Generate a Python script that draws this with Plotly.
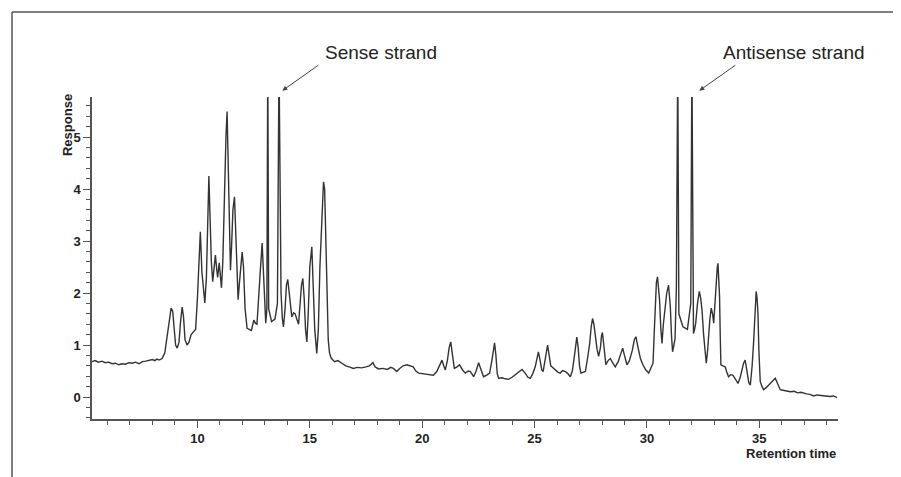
import plotly.graph_objects as go

# Retention time (min) and detector response
retention_time = [
    5.31, 5.45, 5.6, 5.75, 5.9, 6.05, 6.2, 6.35, 6.5, 6.65, 6.8, 6.95, 7.1, 7.25, 7.4, 7.55, 7.7, 7.85, 8.0, 8.1, 8.2, 8.3, 8.43,
    8.55, 8.65, 8.75, 8.83, 8.9, 8.97, 9.03, 9.10, 9.18, 9.25, 9.32, 9.38, 9.45, 9.54, 9.62, 9.72, 9.84, 9.92, 10.0, 10.06,
    10.13, 10.2, 10.27, 10.33, 10.4, 10.45, 10.51, 10.56, 10.62, 10.68, 10.74, 10.80, 10.86, 10.9, 10.97, 11.02, 11.07, 11.13,
    11.18, 11.22, 11.27, 11.32, 11.36, 11.40, 11.44, 11.47, 11.52, 11.58, 11.65, 11.70, 11.75, 11.81, 11.87, 11.93, 11.99,
    12.05, 12.12, 12.21, 12.3, 12.4, 12.51, 12.58, 12.65, 12.72, 12.80, 12.88, 12.94, 13.0, 13.04, 13.09, 13.13, 13.17,
    13.3, 13.45, 13.56, 13.63, 13.67, 13.72, 13.78, 13.83, 13.9, 13.96, 14.02, 14.08, 14.14, 14.2, 14.28, 14.35, 14.42,
    14.5, 14.57, 14.63, 14.69, 14.75, 14.81, 14.87, 14.93, 15.0, 15.09, 15.15, 15.22, 15.31, 15.38, 15.45, 15.5, 15.56,
    15.61, 15.66, 15.71, 15.76, 15.82, 15.88, 15.95, 16.1, 16.25, 16.43, 16.6, 16.75, 16.94, 17.1, 17.3, 17.5, 17.65,
    17.81, 17.9, 18.06, 18.25, 18.45, 18.6, 18.72, 18.87, 19.0, 19.15, 19.32, 19.45, 19.6, 19.72, 19.84, 20.0, 20.15,
    20.3, 20.5, 20.65, 20.78, 20.88, 20.96, 21.03, 21.12, 21.2, 21.27, 21.35, 21.43, 21.55, 21.66, 21.8, 21.92, 22.05,
    22.14, 22.22, 22.29, 22.4, 22.51, 22.6, 22.73, 22.87, 23.0, 23.1, 23.17, 23.22, 23.28, 23.34, 23.4, 23.55, 23.7,
    23.84, 24.0, 24.13, 24.3, 24.44, 24.6, 24.7, 24.81, 24.92, 25.03, 25.1, 25.17, 25.25, 25.32, 25.38, 25.45, 25.52,
    25.58, 25.65, 25.72, 25.77, 25.85, 25.92, 26.03, 26.14, 26.25, 26.37, 26.48, 26.59, 26.68, 26.77, 26.83, 26.88,
    26.94, 27.0, 27.06, 27.15, 27.26, 27.36, 27.45, 27.52, 27.58, 27.64, 27.7, 27.78, 27.85, 27.93, 27.98, 28.02, 28.08,
    28.17, 28.27, 28.37, 28.47, 28.59, 28.72, 28.83, 28.92, 29.0, 29.11, 29.22, 29.35, 29.44, 29.51, 29.58, 29.71,
    29.82, 29.95, 30.08, 30.18, 30.27, 30.33, 30.37, 30.42, 30.47, 30.52, 30.56, 30.62, 30.67, 30.73, 30.8, 30.88,
    30.96, 31.0, 31.04, 31.09, 31.14, 31.2, 31.25, 31.31, 31.37, 31.42, 31.6, 31.8, 31.95, 32.0, 32.04, 32.07, 32.12,
    32.17, 32.25, 32.33, 32.39, 32.45, 32.52, 32.58, 32.64, 32.7, 32.74, 32.8, 32.86, 32.92, 32.97, 33.03, 33.08,
    33.13, 33.16, 33.2, 33.23, 33.26, 33.29, 33.38, 33.48, 33.55, 33.63, 33.72, 33.82, 33.93, 34.05, 34.15, 34.23,
    34.3, 34.37, 34.42, 34.47, 34.53, 34.6, 34.68, 34.75, 34.81, 34.86, 34.9, 34.94, 34.98, 35.04, 35.12, 35.19, 35.3,
    35.4, 35.49, 35.6, 35.71, 35.82, 35.93, 36.05, 36.2, 36.38, 36.55, 36.7, 36.85, 36.97, 37.1, 37.25, 37.42, 37.55,
    37.7, 37.86, 38.0, 38.15, 38.3, 38.46,
]
response = [
    0.68, 0.70, 0.67, 0.69, 0.66, 0.67, 0.64, 0.65, 0.62, 0.64, 0.63, 0.66, 0.65, 0.67, 0.64, 0.68, 0.69, 0.70, 0.72, 0.70, 0.73, 0.71, 0.74,
    0.85, 1.15, 1.55, 1.71, 1.65, 1.25, 1.0, 0.94, 1.05, 1.45, 1.73, 1.55, 1.1, 1.0, 1.05, 1.2, 1.26, 1.3, 1.9, 2.5,
    3.18, 2.4, 2.0, 1.81, 2.3, 3.3, 4.25, 3.5, 2.6, 2.22, 2.5, 2.73, 2.45, 2.3, 2.58, 2.3, 2.1, 2.6,
    3.5, 4.33, 5.0, 5.49, 4.6, 3.9, 2.9, 2.44, 2.9, 3.6, 3.85, 3.3, 2.4, 1.87, 2.2, 2.6, 2.79,
    2.5, 1.7, 1.32, 1.3, 1.28, 1.48, 1.42, 1.4, 1.8, 2.44, 2.96, 2.4, 1.6, 1.42, 1.7, 6.5, 1.7,
    1.45, 1.5, 1.8, 6.5, 3.37, 2.0, 1.5, 1.35, 1.7, 2.15, 2.26, 2.0, 1.7, 1.54, 1.62, 1.6, 1.5,
    1.4, 1.8, 2.15, 2.28, 1.9, 1.3, 1.06, 1.6, 2.5, 2.89, 2.3, 1.3, 0.84, 1.3, 2.5, 3.1, 3.9,
    4.14, 4.0, 3.0, 1.8, 1.1, 0.84, 0.75, 0.68, 0.70, 0.65, 0.60, 0.58, 0.55, 0.57, 0.56, 0.58, 0.60,
    0.66, 0.58, 0.54, 0.55, 0.53, 0.57, 0.55, 0.49, 0.55, 0.60, 0.62, 0.60, 0.58, 0.50, 0.46, 0.45, 0.44,
    0.43, 0.42, 0.49, 0.60, 0.71, 0.60, 0.52, 0.70, 0.95, 1.06, 0.80, 0.55, 0.58, 0.62, 0.52, 0.46, 0.50,
    0.49, 0.44, 0.39, 0.50, 0.66, 0.55, 0.39, 0.42, 0.46, 0.70, 0.95, 1.04, 0.80, 0.45, 0.36, 0.37, 0.35,
    0.34, 0.38, 0.42, 0.48, 0.53, 0.45, 0.38, 0.36, 0.45, 0.58, 0.75, 0.87, 0.70, 0.52, 0.49, 0.70, 0.92,
    1.0, 0.80, 0.60, 0.58, 0.55, 0.52, 0.48, 0.46, 0.51, 0.49, 0.45, 0.39, 0.50, 0.78, 1.05, 1.15,
    0.95, 0.60, 0.46, 0.48, 0.49, 0.75, 1.02, 1.35, 1.51, 1.40, 1.16, 0.92, 0.78, 0.95, 1.18, 1.24, 1.0,
    0.62, 0.70, 0.74, 0.66, 0.58, 0.68, 0.85, 0.94, 0.80, 0.62, 0.70, 0.90, 1.10, 1.16, 1.0, 0.74,
    0.62, 0.52, 0.46, 0.55, 0.65, 1.3, 1.8, 2.2, 2.31, 2.1, 1.87, 1.3, 1.03, 1.4, 1.74, 2.0,
    2.15, 2.0, 1.74, 1.2, 0.87, 1.0, 1.12, 2.1, 6.5, 1.6, 1.35, 1.3, 1.8, 6.5, 2.83, 1.22, 1.3,
    1.42, 1.8, 2.03, 1.9, 1.67, 1.2, 0.85, 0.65, 0.9, 1.16, 1.5, 1.71, 1.6, 1.42, 1.9, 2.31,
    2.5, 2.57, 2.3, 1.94, 1.2, 0.62, 0.60, 0.58, 0.48, 0.39, 0.43, 0.42, 0.35, 0.26, 0.38, 0.52,
    0.65, 0.71, 0.55, 0.39, 0.28, 0.23, 0.60, 1.09, 1.6, 2.03, 1.9, 1.6, 0.9, 0.30, 0.20, 0.14, 0.18,
    0.22, 0.26, 0.31, 0.36, 0.25, 0.14, 0.13, 0.12, 0.10, 0.11, 0.08, 0.09, 0.07, 0.06, 0.05, 0.02, 0.04,
    0.03, 0.03, 0.02, 0.01, 0.02, -0.01,
]

x_tick_vals = [10, 15, 20, 25, 30, 35]
x_tick_text = ["10", "15", "20", "25", "30", "35"]
y_tick_vals = [0, 1, 2, 3, 4, 5]
y_tick_text = ["0", "1", "2", "3", "4", "5"]

annotation_labels = ["Sense strand", "Antisense strand"]

FONT = "Liberation Sans, Arial, sans-serif"
AXC = "#555555"

fig = go.Figure()
fig.add_trace(go.Scatter(
    x=retention_time, y=response, mode="lines",
    line=dict(color="#333333", width=1.4),
    showlegend=False, hoverinfo="skip",
))

fig.update_layout(
    width=901, height=477,
    margin=dict(l=84, r=71, t=89, b=66),
    paper_bgcolor="white", plot_bgcolor="white",
    font=dict(family=FONT, color="#222222"),
    xaxis=dict(
        range=[5.31, 38.5], showgrid=False, zeroline=False,
        showline=True, linecolor=AXC, linewidth=1.5,
        tickmode="array", tickvals=x_tick_vals, ticktext=x_tick_text,
        ticks="outside", ticklen=7, tickcolor=AXC, tickwidth=1,
        tickfont=dict(family=FONT, size=13, weight="bold", color="#222222"),
        minor=dict(dtick=1, tick0=0, ticks="outside", ticklen=4, tickcolor=AXC, showgrid=False),
    ),
    yaxis=dict(
        range=[-0.423, 5.77], showgrid=False, zeroline=False,
        showline=True, linecolor=AXC, linewidth=1.5,
        tickmode="array", tickvals=y_tick_vals, ticktext=y_tick_text,
        ticks="outside", ticklen=7, tickcolor=AXC, tickwidth=1,
        tickfont=dict(family=FONT, size=13, weight="bold", color="#222222"),
        minor=dict(dtick=0.2, tick0=0, ticks="outside", ticklen=4, tickcolor=AXC, showgrid=False),
    ),
)

# Frame around the figure (top and left edges)
fig.add_shape(type="line", xref="paper", yref="paper",
              x0=-0.1072, x1=1.1, y0=1.264, y1=1.264,
              line=dict(color=AXC, width=1.5))
fig.add_shape(type="line", xref="paper", yref="paper",
              x0=-0.1072, x1=-0.1072, y0=1.264, y1=-0.2,
              line=dict(color=AXC, width=1.5))

# Axis titles
fig.add_annotation(text="Response", xref="paper", yref="paper",
                   x=-0.0335, y=0.913, textangle=-90, showarrow=False,
                   xanchor="center", yanchor="middle",
                   font=dict(family=FONT, size=13, weight="bold", color="#222222"))
fig.add_annotation(text="Retention time", xref="paper", yref="paper",
                   x=1.0, y=-0.1056, showarrow=False,
                   xanchor="right", yanchor="middle",
                   font=dict(family=FONT, size=13, weight="bold", color="#222222"))

# Peak labels with arrows (paper coordinates of arrow heads and text)
arrow_head_x = [0.2551, 0.8141]
text_left_x = [0.3093, 0.8428]
for label, hx, tx in zip(annotation_labels, arrow_head_x, text_left_x):
    fig.add_annotation(text="", x=hx, y=1.0196, xref="paper", yref="paper",
                       showarrow=True, arrowhead=2, arrowsize=1, arrowwidth=1,
                       arrowcolor="#444444", ax=37.5, ay=-26.5)
    fig.add_annotation(text=label, x=tx, y=1.139, xref="paper", yref="paper",
                       showarrow=False, xanchor="left", yanchor="middle",
                       font=dict(family=FONT, size=19, color="#222222"))

fig.write_html("out.html")
